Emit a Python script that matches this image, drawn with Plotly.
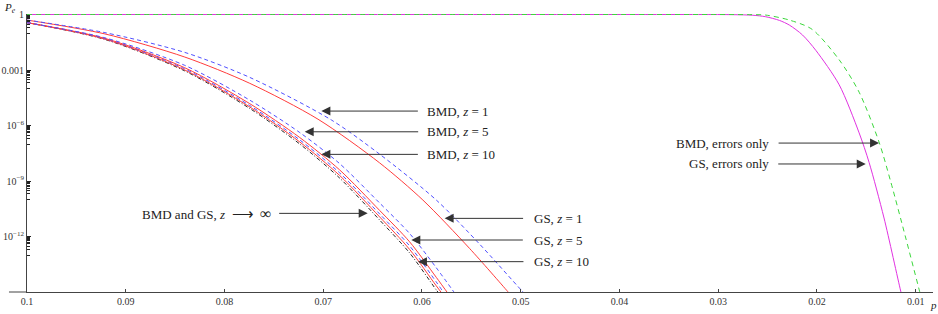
import numpy as np
import plotly.graph_objects as go

# ---------------- data (p, log10 Pe) ----------------
p_bmd_z1 = [0.1, 0.09211, 0.08402, 0.07744, 0.06918, 0.06429, 0.05855, 0.05417, 0.04996, 0.0494]
lg_bmd_z1 = [-0.30, -0.98, -2.05, -3.40, -5.70, -7.55, -10.03, -12.41, -14.89, -15.2]

p_gs_z1 = [0.1, 0.09211, 0.08402, 0.07744, 0.07053, 0.06429, 0.05991, 0.05519, 0.05131, 0.0508]
lg_gs_z1 = [-0.30, -1.05, -2.30, -3.72, -5.66, -8.02, -10.03, -12.64, -14.98, -15.3]

p_lower = [0.1, 0.09211, 0.08402, 0.07744, 0.07238, 0.06834, 0.06429, 0.06125, 0.05855]
lg_bmd_z5 = [-0.44, -1.26, -2.75, -4.63, -6.38, -8.06, -10.19, -11.84, -13.69]
lg_gs_z5 = [-0.44, -1.29, -2.88, -4.82, -6.65, -8.40, -10.59, -12.29, -14.21]
lg_bmd_z10 = [-0.44, -1.31, -2.94, -4.92, -6.78, -8.56, -10.78, -12.51, -14.46]
lg_gs_z10 = [-0.44, -1.33, -3.00, -5.00, -6.89, -8.70, -10.94, -12.70, -14.67]
lg_inf = [-0.44, -1.35, -3.05, -5.08, -7.00, -8.84, -11.11, -12.89, -14.89]
p_tail_bmd_z5, lg_tail_bmd_z5 = [0.0565], [-15.2]
p_tail_gs_z5, lg_tail_gs_z5 = [0.0572], [-15.2]
p_tail_bmd_z10, lg_tail_bmd_z10 = [0.0576], [-15.2]
p_tail_gs_z10, lg_tail_gs_z10 = [0.0578], [-15.2]
p_tail_inf, lg_tail_inf = [0.0581], [-15.2]

p_gs_eo = [0.1, 0.05, 0.032, 0.0285, 0.0265, 0.0252, 0.0238, 0.0228, 0.02146, 0.0201,
           0.01775, 0.01573, 0.01472, 0.01321, 0.01152, 0.0113]
lg_gs_eo = [0.0, 0.0, -0.001, -0.008, -0.04, -0.12, -0.32, -0.57, -1.11, -1.95,
            -3.80, -6.40, -8.00, -11.0, -14.95, -15.4]

p_bmd_eo = [0.1, 0.05, 0.03, 0.0265, 0.0252, 0.0228, 0.0205, 0.01775, 0.01573, 0.01371,
            0.01253, 0.01101, 0.0096, 0.0094]
lg_bmd_eo = [0.0, 0.0, -0.001, -0.008, -0.03, -0.30, -0.80, -2.45, -4.20, -6.90,
             -9.04, -12.08, -14.98, -15.4]

x_tick_vals = [0.1, 0.09, 0.08, 0.07, 0.06, 0.05, 0.04, 0.03, 0.02, 0.01]
x_tick_text = ["0.1", "0.09", "0.08", "0.07", "0.06", "0.05", "0.04", "0.03", "0.02", "0.01"]
y_tick_vals = [1, 1e-3, 1e-6, 1e-9, 1e-12]
y_tick_text = ["1", "0.001", "10<sup>\u22126</sup>", "10<sup>\u22129</sup>", "10<sup>\u221212</sup>"]

# labels: (text, tip p, tip log10 Pe, tail offset px, text p, anchor)
labels = [
    ("BMD, <i>z</i> = 1", 0.07019, -5.22, 98, 0.05974, "left"),
    ("BMD, <i>z</i> = 5", 0.07188, -6.34, 115, 0.05974, "left"),
    ("BMD, <i>z</i> = 10", 0.07019, -7.56, 98, 0.05974, "left"),
    ("GS, <i>z</i> = 1", 0.05771, -11.02, 80, 0.04891, "left"),
    ("GS, <i>z</i> = 5", 0.06108, -12.19, 113, 0.04891, "left"),
    ("GS, <i>z</i> = 10", 0.06041, -13.36, 107, 0.04891, "left"),
    ("BMD and GS, <i>z</i>\u00a0\u00a0<span style='font-size:15px'>\u27f6</span>\u00a0\u00a0"
     "<span style='font-size:16px'>\u221e</span>", 0.06550, -10.75, -90, 0.07511, "right"),
    ("BMD, errors only", 0.01371, -6.95, -102, 0.02463, "right"),
    ("GS, errors only", 0.01506, -8.08, -89, 0.02463, "right"),
]

BLUE = "rgb(80,80,255)"
RED = "rgb(255,60,60)"
MAG = "rgb(225,50,225)"
GREEN = "rgb(60,215,60)"
BLACK = "rgb(40,40,40)"
AX = "#444444"
FONT = "Liberation Serif"

fig = go.Figure()


def add(px, lg, color, dash):
    fig.add_trace(go.Scatter(
        x=px, y=np.power(10.0, np.array(lg)), mode="lines",
        line=dict(color=color, width=1, dash=dash, shape="spline", smoothing=0.8),
        hoverinfo="skip", showlegend=False))


add(p_gs_eo, lg_gs_eo, MAG, "solid")
add(p_bmd_eo, lg_bmd_eo, GREEN, "5px,4px")
add(p_lower + p_tail_inf, lg_inf + lg_tail_inf, BLACK, "4px,2px,1px,2px")
add(p_lower + p_tail_gs_z10, lg_gs_z10 + lg_tail_gs_z10, RED, "solid")
add(p_lower + p_tail_bmd_z10, lg_bmd_z10 + lg_tail_bmd_z10, BLUE, "4px,3px")
add(p_lower + p_tail_gs_z5, lg_gs_z5 + lg_tail_gs_z5, RED, "solid")
add(p_lower + p_tail_bmd_z5, lg_bmd_z5 + lg_tail_bmd_z5, BLUE, "4px,3px")
add(p_gs_z1, lg_gs_z1, RED, "solid")
add(p_bmd_z1, lg_bmd_z1, BLUE, "4px,3px")

annotations = []
for text, tp, tl, off, txp, anc in labels:
    annotations.append(dict(
        x=tp, y=tl, xref="x", yref="y", text="", showarrow=True,
        ax=off, ay=0, arrowhead=2, arrowsize=1.8, arrowwidth=1,
        arrowcolor="#333333"))
    annotations.append(dict(
        x=txp, y=tl, xref="x", yref="y", text=text, showarrow=False,
        xanchor=anc, yanchor="middle",
        font=dict(family=FONT, size=13, color="#222222")))

annotations.append(dict(x=-0.019, y=1.022, xref="paper", yref="paper",
                        text="<i>P<sub>e</sub></i>", showarrow=False,
                        xanchor="center", yanchor="middle",
                        font=dict(family=FONT, size=11, color="#222222")))
annotations.append(dict(x=1.0, y=-0.047, xref="paper", yref="paper",
                        text="<i>p</i>", showarrow=False,
                        xanchor="center", yanchor="middle",
                        font=dict(family=FONT, size=11, color="#222222")))

minor_y = []
for n in [0, -3, -6, -9, -12]:
    for k in range(1, 10):
        minor_y.append(k * 10.0 ** (n - 1))

fig.update_layout(
    width=938, height=314, autosize=False,
    margin=dict(l=27, r=5, t=14, b=22, pad=0),
    paper_bgcolor="white", plot_bgcolor="white",
    annotations=annotations,
    shapes=[dict(type="line", xref="paper", yref="paper", x0=-0.0199, x1=0,
                 y0=0, y1=0, line=dict(color=AX, width=1))],
    xaxis=dict(range=[0.1, 0.00825], showgrid=False, zeroline=False, automargin=False,
               showline=True, linecolor=AX, linewidth=1,
               tickmode="array", tickvals=x_tick_vals, ticktext=x_tick_text,
               ticks="inside", ticklen=3, tickcolor=AX,
               tickfont=dict(family=FONT, size=10, color="#333333")),
    yaxis=dict(type="log", range=[-15, 0.027], showgrid=False, zeroline=False, automargin=False,
               showline=True, linecolor=AX, linewidth=1,
               tickmode="array", tickvals=y_tick_vals, ticktext=y_tick_text,
               ticks="inside", ticklen=4, tickcolor="#222222",
               minor=dict(tickmode="array", tickvals=minor_y, ticks="inside",
                          ticklen=2.5, tickcolor="#222222"),
               tickfont=dict(family=FONT, size=10, color="#333333")),
)

fig.write_html("out.html", config={"displayModeBar": False},
               post_script="document.body.style.margin='0';")
